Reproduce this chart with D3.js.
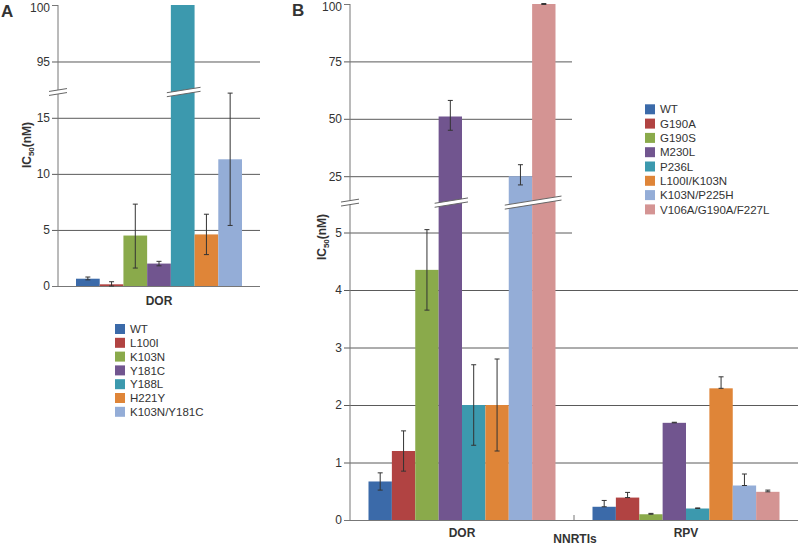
<!DOCTYPE html>
<html><head><meta charset="utf-8">
<script src="https://cdn.jsdelivr.net/npm/d3@7/dist/d3.min.js"></script>
<style>body{margin:0;background:#fff}svg{display:block}text{font-family:"Liberation Sans",Arial,Helvetica,sans-serif;fill:#333}</style>
</head><body><svg id="c" width="800" height="545"></svg>
<script>
// ---- Panel A data ----
const catsA = ["DOR"];
const seriesA = ["WT","L100I","K103N","Y181C","Y188L","H221Y","K103N/Y181C"];
const valuesA = [0.65, 0.15, 4.5, 2.0, 100, 4.6, 11.3];
const errLoA  = [0.55, 0.0, 1.6, 1.8, 100, 2.8, 5.4];
const errHiA  = [0.8, 0.38, 7.3, 2.2, 100, 6.4, 17.2];
const ticksA  = [0, 5, 10, 15, 95, 100];
const breakA  = [17.3, 92.3];

// ---- Panel B data ----
const catsB = ["DOR","RPV"];
const seriesB = ["WT","G190A","G190S","M230L","P236L","L100I/K103N","K103N/P225H","V106A/G190A/F227L"];
const valuesB = {
  DOR: [0.67, 1.2, 4.35, 51, 2.0, 2.0, 25, 100],
  RPV: [0.23, 0.39, 0.1, 1.69, 0.2, 2.29, 0.6, 0.49]
};
const errLoB = {
  DOR: [0.52, 0.85, 3.65, 45, 1.3, 1.2, 21.2, 99.8],
  RPV: [0.23, 0.39, 0.1, 1.69, 0.2, 2.29, 0.6, 0.49]
};
const errHiB = {
  DOR: [0.82, 1.55, 5.05, 58, 2.7, 2.8, 30, 100.2],
  RPV: [0.34, 0.48, 0.115, 1.70, 0.21, 2.49, 0.8, 0.52]
};
const ticksB = [0, 1, 2, 3, 4, 5, 25, 50, 75, 100];
const breakB = [5.52, 13.5];

const colorsA = ["#3b6aa9","#b14342","#8aaa4b","#71558f","#3c99ae","#df8538","#94add7"];
const colorsB = ["#3b6aa9","#b14342","#8aaa4b","#71558f","#3c99ae","#df8538","#94add7","#d49493"];

const svg = d3.select("#c");
const gridColor = "#5a5a5a", axisColor = "#777";

function panel(opt){
  const g = svg.append("g");
  const y = d3.scaleLinear().domain([0, opt.brk[0], opt.brk[1], opt.top]).range([opt.y0, opt.yb, opt.yb, opt.y1]);
  const x0 = d3.scaleBand().domain(opt.cats).range([opt.xa, opt.xe]);
  const x1 = d3.scaleBand().domain(opt.series).range([opt.pad, x0.bandwidth()-opt.pad]);
  const yAxis = d3.axisLeft(y).tickValues(opt.ticks).tickSize(0).tickPadding(8).tickFormat(d3.format("d"));
  const ga = g.append("g").attr("transform",`translate(${opt.xa},0)`).call(yAxis);
  ga.select(".domain").remove();
  ga.selectAll(".tick text").style("font-size","12px").attr("fill","#333");
  ga.selectAll(".tick").filter(d=>d===opt.top).select("text").attr("dy","0.55em");
  ga.selectAll(".tick").filter(d=>d!==opt.top).append("line")
    .attr("x1",-6).attr("x2",d=> (opt.gridEnd ? opt.gridEnd(d) : opt.xe) - opt.xa)
    .attr("stroke",d=>d===0?axisColor:gridColor).attr("stroke-width",1);
  ga.selectAll(".tick").filter(d=>d===opt.top).append("line").attr("x1",-6).attr("x2",0).attr("stroke",axisColor);
  g.append("line").attr("x1",opt.xa).attr("x2",opt.xa).attr("y1",y(opt.top)).attr("y2",y(0)).attr("stroke",axisColor);
  opt.cats.slice(1).forEach(c=>{
    g.append("line").attr("x1",x0(c)).attr("x2",x0(c)).attr("y1",y(0)-5).attr("y2",y(0)).attr("stroke",axisColor);
  });
  opt.cats.forEach(c=>{
    const vals = opt.values(c), lo = opt.lo(c), hi = opt.hi(c);
    const gc = g.append("g").attr("transform",`translate(${x0(c)},0)`);
    gc.selectAll("rect").data(opt.series).join("rect")
      .attr("x",s=>x1(s)).attr("width",x1.bandwidth())
      .attr("y",(s,i)=>y(vals[i])).attr("height",(s,i)=>y(0)-y(vals[i]))
      .attr("fill",(s,i)=>opt.colors[i]);
    const eb = gc.selectAll("g.eb").data(opt.series.filter((s,i)=>hi[i]>lo[i] || vals[i]<opt.top)).join("g").attr("class","eb")
      .attr("transform",s=>`translate(${x1(s)+x1.bandwidth()/2},0)`);
    const idx = s => opt.series.indexOf(s);
    eb.append("line").attr("y1",s=>y(lo[idx(s)])).attr("y2",s=>y(hi[idx(s)])).attr("stroke","#333").attr("stroke-width",1);
    eb.append("line").attr("x1",-2.5).attr("x2",2.5).attr("y1",s=>y(hi[idx(s)])).attr("y2",s=>y(hi[idx(s)])).attr("stroke","#333");
    eb.append("line").attr("x1",-2.5).attr("x2",2.5).attr("y1",s=>y(lo[idx(s)])).attr("y2",s=>y(lo[idx(s)])).attr("stroke","#333");
    g.append("text").attr("x",x0(c)+x0.bandwidth()/2).attr("y",opt.catY).attr("text-anchor","middle")
      .style("font-size","12px").style("font-weight","bold").text(c);
  });
  const yb = opt.yb;
  function brk(xl, xr){
    const rise = (xr-xl)*0.16, gap = 4;
    g.append("path").attr("d",`M${xl},${yb+rise/2} L${xr},${yb-rise/2} L${xr},${yb-rise/2-gap} L${xl},${yb+rise/2-gap} Z`)
      .attr("transform",`translate(0,${gap/2})`).attr("fill","#fff");
    [0,gap].forEach(o=>g.append("line").attr("x1",xl).attr("x2",xr)
      .attr("y1",yb+rise/2-o+gap/2).attr("y2",yb-rise/2-o+gap/2).attr("stroke","#666").attr("stroke-width",1));
  }
  brk(opt.xa-9, opt.xa+9);
  opt.cats.forEach(c=>{
    const vals = opt.values(c);
    let run = null;
    opt.series.forEach((s,i)=>{
      const over = vals[i] > opt.brk[0];
      if (over){ if(!run) run=[i,i]; else run[1]=i; }
      if ((!over || i===opt.series.length-1) && run){
        brk(x0(c)+x1(opt.series[run[0]])-4, x0(c)+x1(opt.series[run[1]])+x1.bandwidth()+6);
        run=null;
      }
    });
  });
  const yl = g.append("text").attr("transform",`translate(${opt.ylx},${opt.yly}) rotate(-90)`)
    .attr("text-anchor","middle").style("font-size","12px").style("font-weight","bold");
  yl.append("tspan").text("IC");
  yl.append("tspan").text("50").style("font-size","8px").attr("dy",3);
  yl.append("tspan").text("(nM)").attr("dy",-3);
  g.append("text").attr("x",opt.lx).attr("y",opt.ly).style("font-size","17px").style("font-weight","bold").attr("fill","#222").text(opt.letter);
  return {g,y,x0,x1};
}

function legend(items, colors, x, y0, step, size){
  const lg = svg.append("g");
  items.forEach((s,i)=>{
    const cy = y0 + i*step;
    lg.append("rect").attr("x",x).attr("y",cy-size/2).attr("width",size).attr("height",size).attr("fill",colors[i]);
    lg.append("text").attr("x",x+size+5).attr("y",cy).attr("dy","0.36em").style("font-size","11.5px").text(s);
  });
}

panel({
  cats: catsA, series: seriesA, values: ()=>valuesA, lo: ()=>errLoA, hi: ()=>errHiA,
  colors: colorsA, ticks: ticksA, brk: breakA, top: 100,
  y0: 286, yb: 92, y1: 5, xa: 58, xe: 260, pad: 18, catY: 305,
  ylx: 31, yly: 145, lx: 1, ly: 17, letter: "A"
});
legend(seriesA, colorsA, 115, 329, 13.8, 10);

panel({
  cats: catsB, series: seriesB, values: c=>valuesB[c], lo: c=>errLoB[c], hi: c=>errHiB[c],
  colors: colorsB, ticks: ticksB, brk: breakB, top: 100,
  y0: 520, yb: 202.6, y1: 4, xa: 350, xe: 798, pad: 18.5, catY: 537,
  ylx: 326, yly: 237, lx: 292, ly: 16, letter: "B",
  gridEnd: d => d > 4 ? 572 : 798
});
svg.append("text").attr("x",575).attr("y",543).attr("text-anchor","middle")
  .style("font-size","12px").style("font-weight","bold").text("NNRTIs");
legend(seriesB, colorsB, 645, 109.3, 14.3, 10);
</script></body></html>
